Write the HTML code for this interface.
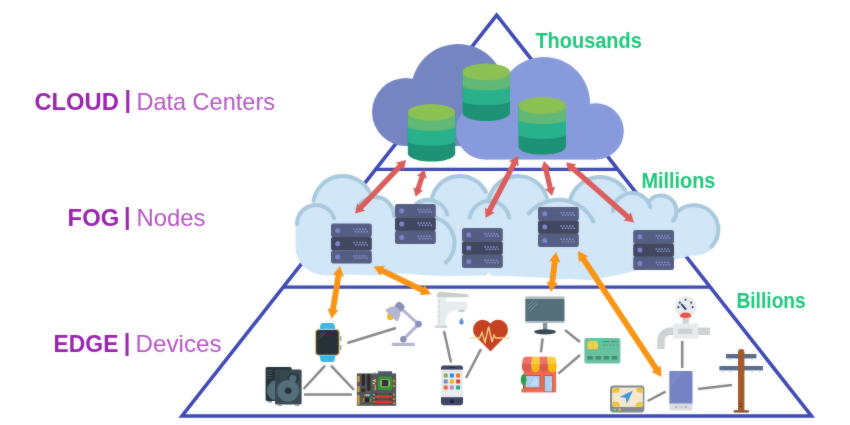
<!DOCTYPE html>
<html lang="en"><head><meta charset="utf-8"><title>Cloud Fog Edge</title>
<style>
html,body{margin:0;padding:0;background:#fff;}
body{width:850px;height:425px;overflow:hidden;}
svg{display:block;}
text{font-family:"Liberation Sans",sans-serif;}
.b{font-weight:700;}
</style></head><body>
<svg width="850" height="425" viewBox="0 0 850 425">
<rect width="850" height="425" fill="#ffffff"/>
<defs><filter id="soft" x="0" y="0" width="850" height="425" filterUnits="userSpaceOnUse" color-interpolation-filters="sRGB"><feGaussianBlur stdDeviation="0.8" result="b"/><feComposite in="b" in2="SourceGraphic" operator="arithmetic" k1="0" k2="0.3" k3="0.7" k4="0"/></filter></defs>
<g filter="url(#soft)">
<g fill="none" stroke="#3d49b3">
<path d="M496.7 15.2 L182 416 L811.4 416 Z" stroke-width="3.6" stroke-linejoin="miter"/>
<line x1="375.49" y1="169.3" x2="617.91" y2="169.3" stroke-width="3.2"/>
<line x1="282.95" y1="287.1" x2="710.45" y2="287.1" stroke-width="3.2"/>
</g>
<g fill="#d1e6f7">
<circle cx="316" cy="224" r="20.7"/>
<circle cx="343" cy="206" r="31.7"/>
<circle cx="375" cy="216" r="20.7"/>
<circle cx="428" cy="220" r="21.7"/>
<circle cx="460" cy="205" r="30.7"/>
<circle cx="518" cy="206" r="31.7"/>
<circle cx="558.5" cy="238.5" r="40.8"/>
<circle cx="600" cy="208" r="32.7"/>
<circle cx="632" cy="212" r="20.7"/>
<circle cx="661" cy="211" r="17.2"/>
<circle cx="694" cy="229.6" r="26.2"/>
<circle cx="489.5" cy="221" r="21"/>
<path d="M295.5 224 L295.5 246 C295.5 263 307 275.4 330 275.4 L350 274.6 L372 275.6 L400 273.6 L440 276 L486 275.5 L488.5 272.5 L491 275.5 L540 277.5 L590 280 Q612 276.5 630 272 Q655 266 674 260 Q692 256 702 251 Q714 244 718 236 L721 226 L694 215 L661 205 L632 205 L600 200 L561 215 L518 200 L460 200 L428 212 L400 208 L375 210 L343 200 L316 215 Z"/>
</g>
<path d="M297 224 A19 19 0 0 1 334.17 218.44" fill="none" stroke="#a9c9dd" stroke-width="4" stroke-linecap="round"/>
<path d="M313.55 200.28 A30 30 0 0 1 369.49 191.92" fill="none" stroke="#a9c9dd" stroke-width="4" stroke-linecap="round"/>
<path d="M357.38 208.88 A19 19 0 0 1 394 216" fill="none" stroke="#a9c9dd" stroke-width="4" stroke-linecap="round"/>
<path d="M416.53 203.62 A20 20 0 0 1 447.23 214.49" fill="none" stroke="#a9c9dd" stroke-width="4" stroke-linecap="round"/>
<path d="M436.19 217.8 A26.5 26.5 0 0 1 446.07 262.38" fill="none" stroke="#a9c9dd" stroke-width="4" stroke-linecap="round"/>
<path d="M431.44 199.96 A29 29 0 0 1 485.84 191.83" fill="none" stroke="#a9c9dd" stroke-width="4" stroke-linecap="round"/>
<path d="M488.55 200.28 A30 30 0 0 1 546.84 197.73" fill="none" stroke="#a9c9dd" stroke-width="4" stroke-linecap="round"/>
<path d="M469.8 217.53 A20 20 0 0 1 509.2 217.53" fill="none" stroke="#a9c9dd" stroke-width="4" stroke-linecap="round"/>
<path d="M528.78 213.56 A38.8 38.8 0 0 1 593.37 221.49" fill="none" stroke="#a9c9dd" stroke-width="4" stroke-linecap="round"/>
<path d="M570.52 198.42 A31 31 0 0 1 625.08 189.78" fill="none" stroke="#a9c9dd" stroke-width="4" stroke-linecap="round"/>
<path d="M613.03 211.01 A19 19 0 0 1 650.35 207.08" fill="none" stroke="#a9c9dd" stroke-width="4" stroke-linecap="round"/>
<path d="M650.04 200.04 A15.5 15.5 0 0 1 673.05 220.75" fill="none" stroke="#a9c9dd" stroke-width="4" stroke-linecap="round"/>
<path d="M678.32 210.91 A24.4 24.4 0 0 1 711.25 246.85" fill="none" stroke="#a9c9dd" stroke-width="4" stroke-linecap="round"/>
<g fill="#7585c2">
<circle cx="406" cy="112" r="34"/><circle cx="458" cy="91" r="47"/><rect x="406" y="100" width="140" height="46"/>
</g>
<g fill="#879bdc">
<circle cx="485" cy="130.5" r="29"/><circle cx="544" cy="103" r="46"/><circle cx="595.6" cy="131.4" r="28.2"/><rect x="485" y="125" width="111" height="34.6"/>
</g>
<path d="M407.8 112.4 L407.8 153.4 A23.7 8.2 0 0 0 455.2 153.4 L455.2 112.4 Z" fill="#1d9275"/>
<path d="M407.8 112.4 L407.8 141.2 A23.7 4.6 0 0 0 455.2 141.2 L455.2 112.4 Z" fill="#28b18a"/>
<path d="M407.8 112.4 L407.8 126.3 A23.7 4.6 0 0 0 455.2 126.3 L455.2 112.4 Z" fill="#62b876"/>
<ellipse cx="431.5" cy="112.4" rx="23.7" ry="8.4" fill="#8bc053"/>
<path d="M462.6 71.9 L462.6 112.9 A23.7 8.2 0 0 0 510 112.9 L510 71.9 Z" fill="#1d9275"/>
<path d="M462.6 71.9 L462.6 100.7 A23.7 4.6 0 0 0 510 100.7 L510 71.9 Z" fill="#28b18a"/>
<path d="M462.6 71.9 L462.6 85.8 A23.7 4.6 0 0 0 510 85.8 L510 71.9 Z" fill="#62b876"/>
<ellipse cx="486.3" cy="71.9" rx="23.7" ry="8.4" fill="#8bc053"/>
<path d="M518.6 105.5 L518.6 146.5 A23.7 8.2 0 0 0 566 146.5 L566 105.5 Z" fill="#1d9275"/>
<path d="M518.6 105.5 L518.6 134.3 A23.7 4.6 0 0 0 566 134.3 L566 105.5 Z" fill="#28b18a"/>
<path d="M518.6 105.5 L518.6 119.4 A23.7 4.6 0 0 0 566 119.4 L566 105.5 Z" fill="#62b876"/>
<ellipse cx="542.3" cy="105.5" rx="23.7" ry="8.4" fill="#8bc053"/>
<rect x="331" y="223.6" width="40.8" height="13.6" rx="2.2" fill="#555e82"/>
<rect x="331" y="236.9" width="40.8" height="13.6" rx="2.2" fill="#41475f"/>
<rect x="331" y="250.2" width="40.8" height="13.3" rx="2.2" fill="#555e82"/>
<circle cx="337.7" cy="230.4" r="2.5" fill="#7b85cc"/>
<rect x="353.3" y="228.5" width="1.7" height="1.6" fill="#828ac4"/>
<rect x="354.8" y="230.8" width="1.7" height="1.6" fill="#828ac4"/>
<rect x="356.2" y="228.5" width="1.7" height="1.6" fill="#828ac4"/>
<rect x="357.7" y="230.8" width="1.7" height="1.6" fill="#828ac4"/>
<rect x="359.1" y="228.5" width="1.7" height="1.6" fill="#828ac4"/>
<rect x="360.6" y="230.8" width="1.7" height="1.6" fill="#828ac4"/>
<rect x="362" y="228.5" width="1.7" height="1.6" fill="#828ac4"/>
<rect x="363.5" y="230.8" width="1.7" height="1.6" fill="#828ac4"/>
<rect x="364.9" y="228.5" width="1.7" height="1.6" fill="#828ac4"/>
<rect x="366.4" y="230.8" width="1.7" height="1.6" fill="#828ac4"/>
<circle cx="337.7" cy="243.7" r="2.5" fill="#7b85cc"/>
<rect x="353.3" y="241.8" width="1.7" height="1.6" fill="#828ac4"/>
<rect x="354.8" y="244.1" width="1.7" height="1.6" fill="#828ac4"/>
<rect x="356.2" y="241.8" width="1.7" height="1.6" fill="#828ac4"/>
<rect x="357.7" y="244.1" width="1.7" height="1.6" fill="#828ac4"/>
<rect x="359.1" y="241.8" width="1.7" height="1.6" fill="#828ac4"/>
<rect x="360.6" y="244.1" width="1.7" height="1.6" fill="#828ac4"/>
<rect x="362" y="241.8" width="1.7" height="1.6" fill="#828ac4"/>
<rect x="363.5" y="244.1" width="1.7" height="1.6" fill="#828ac4"/>
<rect x="364.9" y="241.8" width="1.7" height="1.6" fill="#828ac4"/>
<rect x="366.4" y="244.1" width="1.7" height="1.6" fill="#828ac4"/>
<circle cx="337.7" cy="257" r="2.5" fill="#7b85cc"/>
<rect x="353.3" y="255.1" width="1.7" height="1.6" fill="#828ac4"/>
<rect x="354.8" y="257.4" width="1.7" height="1.6" fill="#828ac4"/>
<rect x="356.2" y="255.1" width="1.7" height="1.6" fill="#828ac4"/>
<rect x="357.7" y="257.4" width="1.7" height="1.6" fill="#828ac4"/>
<rect x="359.1" y="255.1" width="1.7" height="1.6" fill="#828ac4"/>
<rect x="360.6" y="257.4" width="1.7" height="1.6" fill="#828ac4"/>
<rect x="362" y="255.1" width="1.7" height="1.6" fill="#828ac4"/>
<rect x="363.5" y="257.4" width="1.7" height="1.6" fill="#828ac4"/>
<rect x="364.9" y="255.1" width="1.7" height="1.6" fill="#828ac4"/>
<rect x="366.4" y="257.4" width="1.7" height="1.6" fill="#828ac4"/>
<rect x="395" y="204" width="40.8" height="13.6" rx="2.2" fill="#555e82"/>
<rect x="395" y="217.3" width="40.8" height="13.6" rx="2.2" fill="#41475f"/>
<rect x="395" y="230.6" width="40.8" height="13.3" rx="2.2" fill="#555e82"/>
<circle cx="401.7" cy="210.8" r="2.5" fill="#7b85cc"/>
<rect x="417.3" y="208.9" width="1.7" height="1.6" fill="#828ac4"/>
<rect x="418.8" y="211.2" width="1.7" height="1.6" fill="#828ac4"/>
<rect x="420.2" y="208.9" width="1.7" height="1.6" fill="#828ac4"/>
<rect x="421.7" y="211.2" width="1.7" height="1.6" fill="#828ac4"/>
<rect x="423.1" y="208.9" width="1.7" height="1.6" fill="#828ac4"/>
<rect x="424.6" y="211.2" width="1.7" height="1.6" fill="#828ac4"/>
<rect x="426" y="208.9" width="1.7" height="1.6" fill="#828ac4"/>
<rect x="427.5" y="211.2" width="1.7" height="1.6" fill="#828ac4"/>
<rect x="428.9" y="208.9" width="1.7" height="1.6" fill="#828ac4"/>
<rect x="430.4" y="211.2" width="1.7" height="1.6" fill="#828ac4"/>
<circle cx="401.7" cy="224.1" r="2.5" fill="#7b85cc"/>
<rect x="417.3" y="222.2" width="1.7" height="1.6" fill="#828ac4"/>
<rect x="418.8" y="224.5" width="1.7" height="1.6" fill="#828ac4"/>
<rect x="420.2" y="222.2" width="1.7" height="1.6" fill="#828ac4"/>
<rect x="421.7" y="224.5" width="1.7" height="1.6" fill="#828ac4"/>
<rect x="423.1" y="222.2" width="1.7" height="1.6" fill="#828ac4"/>
<rect x="424.6" y="224.5" width="1.7" height="1.6" fill="#828ac4"/>
<rect x="426" y="222.2" width="1.7" height="1.6" fill="#828ac4"/>
<rect x="427.5" y="224.5" width="1.7" height="1.6" fill="#828ac4"/>
<rect x="428.9" y="222.2" width="1.7" height="1.6" fill="#828ac4"/>
<rect x="430.4" y="224.5" width="1.7" height="1.6" fill="#828ac4"/>
<circle cx="401.7" cy="237.4" r="2.5" fill="#7b85cc"/>
<rect x="417.3" y="235.5" width="1.7" height="1.6" fill="#828ac4"/>
<rect x="418.8" y="237.8" width="1.7" height="1.6" fill="#828ac4"/>
<rect x="420.2" y="235.5" width="1.7" height="1.6" fill="#828ac4"/>
<rect x="421.7" y="237.8" width="1.7" height="1.6" fill="#828ac4"/>
<rect x="423.1" y="235.5" width="1.7" height="1.6" fill="#828ac4"/>
<rect x="424.6" y="237.8" width="1.7" height="1.6" fill="#828ac4"/>
<rect x="426" y="235.5" width="1.7" height="1.6" fill="#828ac4"/>
<rect x="427.5" y="237.8" width="1.7" height="1.6" fill="#828ac4"/>
<rect x="428.9" y="235.5" width="1.7" height="1.6" fill="#828ac4"/>
<rect x="430.4" y="237.8" width="1.7" height="1.6" fill="#828ac4"/>
<rect x="462" y="228" width="40.8" height="13.6" rx="2.2" fill="#555e82"/>
<rect x="462" y="241.3" width="40.8" height="13.6" rx="2.2" fill="#41475f"/>
<rect x="462" y="254.6" width="40.8" height="13.3" rx="2.2" fill="#555e82"/>
<circle cx="468.7" cy="234.8" r="2.5" fill="#7b85cc"/>
<rect x="484.3" y="232.9" width="1.7" height="1.6" fill="#828ac4"/>
<rect x="485.8" y="235.2" width="1.7" height="1.6" fill="#828ac4"/>
<rect x="487.2" y="232.9" width="1.7" height="1.6" fill="#828ac4"/>
<rect x="488.7" y="235.2" width="1.7" height="1.6" fill="#828ac4"/>
<rect x="490.1" y="232.9" width="1.7" height="1.6" fill="#828ac4"/>
<rect x="491.6" y="235.2" width="1.7" height="1.6" fill="#828ac4"/>
<rect x="493" y="232.9" width="1.7" height="1.6" fill="#828ac4"/>
<rect x="494.5" y="235.2" width="1.7" height="1.6" fill="#828ac4"/>
<rect x="495.9" y="232.9" width="1.7" height="1.6" fill="#828ac4"/>
<rect x="497.4" y="235.2" width="1.7" height="1.6" fill="#828ac4"/>
<circle cx="468.7" cy="248.1" r="2.5" fill="#7b85cc"/>
<rect x="484.3" y="246.2" width="1.7" height="1.6" fill="#828ac4"/>
<rect x="485.8" y="248.5" width="1.7" height="1.6" fill="#828ac4"/>
<rect x="487.2" y="246.2" width="1.7" height="1.6" fill="#828ac4"/>
<rect x="488.7" y="248.5" width="1.7" height="1.6" fill="#828ac4"/>
<rect x="490.1" y="246.2" width="1.7" height="1.6" fill="#828ac4"/>
<rect x="491.6" y="248.5" width="1.7" height="1.6" fill="#828ac4"/>
<rect x="493" y="246.2" width="1.7" height="1.6" fill="#828ac4"/>
<rect x="494.5" y="248.5" width="1.7" height="1.6" fill="#828ac4"/>
<rect x="495.9" y="246.2" width="1.7" height="1.6" fill="#828ac4"/>
<rect x="497.4" y="248.5" width="1.7" height="1.6" fill="#828ac4"/>
<circle cx="468.7" cy="261.4" r="2.5" fill="#7b85cc"/>
<rect x="484.3" y="259.5" width="1.7" height="1.6" fill="#828ac4"/>
<rect x="485.8" y="261.8" width="1.7" height="1.6" fill="#828ac4"/>
<rect x="487.2" y="259.5" width="1.7" height="1.6" fill="#828ac4"/>
<rect x="488.7" y="261.8" width="1.7" height="1.6" fill="#828ac4"/>
<rect x="490.1" y="259.5" width="1.7" height="1.6" fill="#828ac4"/>
<rect x="491.6" y="261.8" width="1.7" height="1.6" fill="#828ac4"/>
<rect x="493" y="259.5" width="1.7" height="1.6" fill="#828ac4"/>
<rect x="494.5" y="261.8" width="1.7" height="1.6" fill="#828ac4"/>
<rect x="495.9" y="259.5" width="1.7" height="1.6" fill="#828ac4"/>
<rect x="497.4" y="261.8" width="1.7" height="1.6" fill="#828ac4"/>
<rect x="538" y="207" width="40.8" height="13.6" rx="2.2" fill="#555e82"/>
<rect x="538" y="220.3" width="40.8" height="13.6" rx="2.2" fill="#41475f"/>
<rect x="538" y="233.6" width="40.8" height="13.3" rx="2.2" fill="#555e82"/>
<circle cx="544.7" cy="213.8" r="2.5" fill="#7b85cc"/>
<rect x="560.3" y="211.9" width="1.7" height="1.6" fill="#828ac4"/>
<rect x="561.8" y="214.2" width="1.7" height="1.6" fill="#828ac4"/>
<rect x="563.2" y="211.9" width="1.7" height="1.6" fill="#828ac4"/>
<rect x="564.7" y="214.2" width="1.7" height="1.6" fill="#828ac4"/>
<rect x="566.1" y="211.9" width="1.7" height="1.6" fill="#828ac4"/>
<rect x="567.6" y="214.2" width="1.7" height="1.6" fill="#828ac4"/>
<rect x="569" y="211.9" width="1.7" height="1.6" fill="#828ac4"/>
<rect x="570.5" y="214.2" width="1.7" height="1.6" fill="#828ac4"/>
<rect x="571.9" y="211.9" width="1.7" height="1.6" fill="#828ac4"/>
<rect x="573.4" y="214.2" width="1.7" height="1.6" fill="#828ac4"/>
<circle cx="544.7" cy="227.1" r="2.5" fill="#7b85cc"/>
<rect x="560.3" y="225.2" width="1.7" height="1.6" fill="#828ac4"/>
<rect x="561.8" y="227.5" width="1.7" height="1.6" fill="#828ac4"/>
<rect x="563.2" y="225.2" width="1.7" height="1.6" fill="#828ac4"/>
<rect x="564.7" y="227.5" width="1.7" height="1.6" fill="#828ac4"/>
<rect x="566.1" y="225.2" width="1.7" height="1.6" fill="#828ac4"/>
<rect x="567.6" y="227.5" width="1.7" height="1.6" fill="#828ac4"/>
<rect x="569" y="225.2" width="1.7" height="1.6" fill="#828ac4"/>
<rect x="570.5" y="227.5" width="1.7" height="1.6" fill="#828ac4"/>
<rect x="571.9" y="225.2" width="1.7" height="1.6" fill="#828ac4"/>
<rect x="573.4" y="227.5" width="1.7" height="1.6" fill="#828ac4"/>
<circle cx="544.7" cy="240.4" r="2.5" fill="#7b85cc"/>
<rect x="560.3" y="238.5" width="1.7" height="1.6" fill="#828ac4"/>
<rect x="561.8" y="240.8" width="1.7" height="1.6" fill="#828ac4"/>
<rect x="563.2" y="238.5" width="1.7" height="1.6" fill="#828ac4"/>
<rect x="564.7" y="240.8" width="1.7" height="1.6" fill="#828ac4"/>
<rect x="566.1" y="238.5" width="1.7" height="1.6" fill="#828ac4"/>
<rect x="567.6" y="240.8" width="1.7" height="1.6" fill="#828ac4"/>
<rect x="569" y="238.5" width="1.7" height="1.6" fill="#828ac4"/>
<rect x="570.5" y="240.8" width="1.7" height="1.6" fill="#828ac4"/>
<rect x="571.9" y="238.5" width="1.7" height="1.6" fill="#828ac4"/>
<rect x="573.4" y="240.8" width="1.7" height="1.6" fill="#828ac4"/>
<rect x="633.2" y="230" width="40.8" height="13.6" rx="2.2" fill="#555e82"/>
<rect x="633.2" y="243.3" width="40.8" height="13.6" rx="2.2" fill="#41475f"/>
<rect x="633.2" y="256.6" width="40.8" height="13.3" rx="2.2" fill="#555e82"/>
<circle cx="639.9" cy="236.8" r="2.5" fill="#7b85cc"/>
<rect x="655.5" y="234.9" width="1.7" height="1.6" fill="#828ac4"/>
<rect x="657" y="237.2" width="1.7" height="1.6" fill="#828ac4"/>
<rect x="658.4" y="234.9" width="1.7" height="1.6" fill="#828ac4"/>
<rect x="659.9" y="237.2" width="1.7" height="1.6" fill="#828ac4"/>
<rect x="661.3" y="234.9" width="1.7" height="1.6" fill="#828ac4"/>
<rect x="662.8" y="237.2" width="1.7" height="1.6" fill="#828ac4"/>
<rect x="664.2" y="234.9" width="1.7" height="1.6" fill="#828ac4"/>
<rect x="665.7" y="237.2" width="1.7" height="1.6" fill="#828ac4"/>
<rect x="667.1" y="234.9" width="1.7" height="1.6" fill="#828ac4"/>
<rect x="668.6" y="237.2" width="1.7" height="1.6" fill="#828ac4"/>
<circle cx="639.9" cy="250.1" r="2.5" fill="#7b85cc"/>
<rect x="655.5" y="248.2" width="1.7" height="1.6" fill="#828ac4"/>
<rect x="657" y="250.5" width="1.7" height="1.6" fill="#828ac4"/>
<rect x="658.4" y="248.2" width="1.7" height="1.6" fill="#828ac4"/>
<rect x="659.9" y="250.5" width="1.7" height="1.6" fill="#828ac4"/>
<rect x="661.3" y="248.2" width="1.7" height="1.6" fill="#828ac4"/>
<rect x="662.8" y="250.5" width="1.7" height="1.6" fill="#828ac4"/>
<rect x="664.2" y="248.2" width="1.7" height="1.6" fill="#828ac4"/>
<rect x="665.7" y="250.5" width="1.7" height="1.6" fill="#828ac4"/>
<rect x="667.1" y="248.2" width="1.7" height="1.6" fill="#828ac4"/>
<rect x="668.6" y="250.5" width="1.7" height="1.6" fill="#828ac4"/>
<circle cx="639.9" cy="263.4" r="2.5" fill="#7b85cc"/>
<rect x="655.5" y="261.5" width="1.7" height="1.6" fill="#828ac4"/>
<rect x="657" y="263.8" width="1.7" height="1.6" fill="#828ac4"/>
<rect x="658.4" y="261.5" width="1.7" height="1.6" fill="#828ac4"/>
<rect x="659.9" y="263.8" width="1.7" height="1.6" fill="#828ac4"/>
<rect x="661.3" y="261.5" width="1.7" height="1.6" fill="#828ac4"/>
<rect x="662.8" y="263.8" width="1.7" height="1.6" fill="#828ac4"/>
<rect x="664.2" y="261.5" width="1.7" height="1.6" fill="#828ac4"/>
<rect x="665.7" y="263.8" width="1.7" height="1.6" fill="#828ac4"/>
<rect x="667.1" y="261.5" width="1.7" height="1.6" fill="#828ac4"/>
<rect x="668.6" y="263.8" width="1.7" height="1.6" fill="#828ac4"/>
<polygon fill="#da5d5c" points="406,160 395.74,162.8 398.18,164.3 358.9,205.58 357.29,203.22 355,213.6 365.26,210.8 362.82,209.3 402.1,168.02 403.71,170.38"/>
<polygon fill="#da5d5c" points="424.4,169.3 416.78,175.89 419.49,176.13 415.56,188.39 413.22,187.01 415.6,196.8 423.22,190.21 420.51,189.97 424.44,177.71 426.78,179.09"/>
<polygon fill="#da5d5c" points="518,156 508.91,161.52 511.67,162.28 487.14,209.22 484.94,207.39 485.6,218 494.69,212.48 491.93,211.72 516.46,164.78 518.66,166.61"/>
<polygon fill="#da5d5c" points="544,161 540.8,170.55 543.25,169.38 547.68,188.78 544.97,188.79 552,196 555.2,186.45 552.75,187.62 548.32,168.22 551.03,168.21"/>
<polygon fill="#da5d5c" points="566,162.4 569.18,172.54 570.59,170.05 625.84,218.8 623.54,220.5 634,222.4 630.82,212.26 629.41,214.75 574.16,166 576.46,164.3"/>
<line x1="347.4" y1="343" x2="396" y2="328" stroke="#878787" stroke-width="2.5" stroke-linecap="butt"/>
<line x1="325" y1="365.6" x2="303.6" y2="389" stroke="#878787" stroke-width="2.5" stroke-linecap="butt"/>
<line x1="331" y1="365.6" x2="354" y2="390" stroke="#878787" stroke-width="2.5" stroke-linecap="butt"/>
<line x1="304" y1="394.6" x2="352" y2="394.6" stroke="#878787" stroke-width="2.5" stroke-linecap="butt"/>
<line x1="444" y1="331" x2="451" y2="362.4" stroke="#878787" stroke-width="2.5" stroke-linecap="butt"/>
<line x1="481" y1="349" x2="466" y2="378" stroke="#878787" stroke-width="2.5" stroke-linecap="butt"/>
<line x1="542.6" y1="338.4" x2="541" y2="352.4" stroke="#878787" stroke-width="2.5" stroke-linecap="butt"/>
<line x1="565" y1="330" x2="580" y2="342" stroke="#878787" stroke-width="2.5" stroke-linecap="butt"/>
<line x1="580" y1="355" x2="558.4" y2="373.6" stroke="#878787" stroke-width="2.5" stroke-linecap="butt"/>
<line x1="682.2" y1="341" x2="682.2" y2="368" stroke="#878787" stroke-width="2.5" stroke-linecap="butt"/>
<line x1="647.6" y1="401" x2="665.6" y2="391.6" stroke="#878787" stroke-width="2.5" stroke-linecap="butt"/>
<line x1="698" y1="389" x2="732" y2="385" stroke="#878787" stroke-width="2.5" stroke-linecap="butt"/>
<polygon fill="#fa9414" points="340,266 332.77,275.07 335.58,274.91 330.1,308.95 327.48,307.92 331.5,318.8 338.73,309.73 335.92,309.89 341.4,275.85 344.02,276.88"/>
<polygon fill="#fa9414" points="373.6,266.5 380.22,276.02 380.87,273.29 421.16,292.73 419.43,294.94 431,294.2 424.38,284.68 423.73,287.41 383.44,267.97 385.17,265.76"/>
<polygon fill="#fa9414" points="556,252 549.09,261.32 551.89,261.06 549.25,282.21 546.6,281.27 551,292 557.91,282.68 555.11,282.94 557.75,261.79 560.4,262.73"/>
<polygon fill="#fa9414" points="578,251 578.83,262.57 580.79,260.55 653.89,370.71 651.27,371.74 661.6,377 660.77,365.43 658.81,367.45 585.71,257.29 588.33,256.26"/>
<g>
<path d="M319.4 330 L320.6 324.6 Q321 323 322.8 323 L332.2 323 Q334 323 334.4 324.6 L335.6 330 Z" fill="#3db7dc"/>
<path d="M319.4 355 L320.6 360.4 Q321 362 322.8 362 L332.2 362 Q334 362 334.4 360.4 L335.6 355 Z" fill="#3db7dc"/>
<rect x="339" y="336" width="2.7" height="5" rx="0.9" fill="#b3bac0"/><rect x="339" y="345" width="2.7" height="5" rx="0.9" fill="#b3bac0"/>
<rect x="315.6" y="329.4" width="23.6" height="25.8" rx="3.3" fill="#263238" stroke="#e9c27d" stroke-width="1.1"/>
<path d="M319 336 L323.5 331.5 M319 339 L326 332" stroke="#5b6a73" stroke-width="0.7" fill="none"/>
</g>
<g>
<rect x="265.6" y="367" width="26" height="34" rx="1.5" fill="#263238"/>
<rect x="268" y="401" width="4" height="1.4" fill="#78909c"/>
<path d="M275 380.2 A10.5 10.5 0 0 0 275 400.6 Z" fill="#546e7a"/>
<g stroke="#455a64" stroke-width="0.9"><line x1="267" y1="370.5" x2="272" y2="370.5"/><line x1="267" y1="373" x2="272" y2="373"/><line x1="267" y1="375.5" x2="272" y2="375.5"/><line x1="267" y1="378" x2="272" y2="378"/></g>
<rect x="275" y="369.6" width="26.6" height="34.8" rx="1.5" fill="#37474f"/>
<rect x="278" y="404.4" width="4" height="1.4" fill="#78909c"/><rect x="295" y="404.4" width="4" height="1.4" fill="#78909c"/>
<g stroke="#2b3a42" stroke-width="0.9"><line x1="276.2" y1="372.6" x2="279.6" y2="372.6"/><line x1="276.2" y1="375" x2="279.6" y2="375"/><line x1="276.2" y1="377.4" x2="279.6" y2="377.4"/><line x1="276.2" y1="379.8" x2="279.6" y2="379.8"/></g>
<circle cx="292.9" cy="378.6" r="5.8" fill="#2b3a42"/>
<circle cx="288.2" cy="390.8" r="10.9" fill="#546e7a"/>
<circle cx="292.9" cy="378.6" r="3.6" fill="#546e7a"/>
<circle cx="288.2" cy="390.8" r="3.3" fill="#263238"/>
</g>
<g>
<rect x="378" y="371.3" width="14" height="2.6" fill="#35516f"/><rect x="380" y="371.3" width="3" height="1" fill="#6f8aa6"/><rect x="386" y="371.3" width="3" height="1" fill="#6f8aa6"/>
<rect x="373.6" y="372.2" width="3" height="1.4" fill="#c9ced2"/>
<rect x="356.9" y="373.4" width="39.2" height="32.4" fill="#555558"/>
<path d="M361.7 374 L364.9 374 L364.9 385 L363.3 386.6 L361.7 385 Z" fill="#29292b"/><path d="M367.2 374 L370.4 374 L370.4 389.6 L368.8 391.2 L367.2 389.6 Z" fill="#29292b"/>
<rect x="378" y="376.4" width="14.2" height="13.6" rx="1.6" fill="#2f9632"/>
<rect x="381.2" y="379.2" width="7.8" height="8" fill="#b9c383"/><rect x="380.4" y="380.4" width="9.4" height="5.6" fill="#b9c383"/>
<rect x="381.8" y="379.8" width="6.6" height="6.6" fill="#303032"/>
<rect x="373" y="393" width="20.6" height="11.6" fill="#4a4d55"/>
<rect x="375.2" y="393" width="1.7" height="11.6" fill="#2c3a4c"/><rect x="389.6" y="393" width="1.7" height="11.6" fill="#2c3a4c"/>
<rect x="374.6" y="395.2" width="17.4" height="2.9" fill="#e0342b"/><rect x="374.6" y="400.6" width="17.4" height="2.9" fill="#e0342b"/>
<rect x="373.4" y="394" width="1.3" height="1.3" fill="#cfd3d6"/><rect x="373.4" y="397.6" width="1.3" height="1.3" fill="#cfd3d6"/><rect x="373.4" y="401.2" width="1.3" height="1.3" fill="#e1b12c"/>
<rect x="357.5" y="376" width="2.1" height="6" fill="#d9a520"/>
<rect x="357.5" y="386" width="2.1" height="6" fill="#d9a520"/>
<rect x="357.5" y="395" width="2.1" height="9.6" fill="#d9a520"/>
<rect x="361.4" y="388.6" width="3.6" height="3.6" fill="#2a2a2c"/>
<rect x="364.8" y="397.8" width="4.6" height="4.6" fill="#252527"/><rect x="363" y="398.4" width="1.4" height="1.2" fill="#e1b12c"/><rect x="363" y="400.6" width="1.4" height="1.2" fill="#e1b12c"/><rect x="369.8" y="398.4" width="1.4" height="1.2" fill="#e1b12c"/><rect x="369.8" y="400.6" width="1.4" height="1.2" fill="#e1b12c"/>
<rect x="364.2" y="394.4" width="1.6" height="1.4" fill="#e1b12c"/><rect x="366" y="394.4" width="3.6" height="1.4" fill="#d5d8da"/>
<rect x="372.6" y="380" width="2.4" height="1.3" fill="#d5d8da"/><rect x="372.6" y="382.8" width="2.4" height="1.3" fill="#d5d8da"/><rect x="374.4" y="379" width="1.5" height="3" fill="#e1b12c"/><rect x="374.4" y="384.6" width="1.5" height="5.6" fill="#caa028"/>
<rect x="393" y="380" width="1.6" height="2" fill="#d9a520"/>
<rect x="393" y="385" width="1.6" height="2" fill="#d9a520"/>
<rect x="393" y="393.6" width="1.6" height="2" fill="#d9a520"/>
<rect x="393" y="398" width="1.6" height="2" fill="#d9a520"/>
<rect x="393" y="402" width="1.6" height="2" fill="#d9a520"/>
</g>
<g>
<rect x="391.7" y="342.8" width="23.3" height="3.1" rx="1.2" fill="#b3b5d3"/>
<line x1="403.3" y1="339.3" x2="418.5" y2="324.1" stroke="#b3b5d3" stroke-width="3.2"/>
<line x1="418.5" y1="324.1" x2="401" y2="308.4" stroke="#b3b5d3" stroke-width="3.2"/>
<circle cx="403.3" cy="339.3" r="3.2" fill="#8b90b7"/><circle cx="418.5" cy="324.1" r="3.4" fill="#8b90b7"/>
<rect x="-4.6" y="-4.2" width="9.2" height="8.4" rx="3.4" transform="translate(399.6 306.8) rotate(42)" fill="#8b90b7"/>
<circle cx="390.4" cy="316.5" r="3.5" fill="#eebd1c"/>
<path d="M-8.2 0 A8.2 10.6 0 0 1 8.2 0 Z" transform="translate(391 316) rotate(45)" fill="#b3b5d3"/>
</g>
<g>
<path d="M437.2 300 L445.6 300 L445.6 301.5 L466 301.5 Q467 301.5 467 302.5 L467 309.7 L457.6 309.7 Q445.8 310.6 445.6 322 L445.6 325.8 L437.2 325.8 Z" fill="#e7ecef"/>
<path d="M436.8 297.4 L436.8 295.6 Q436.8 291.8 441 291.8 L467.6 294.3 Q469 294.5 469 295.7 Q469 296.9 467.6 297 L440 297.4 Z" fill="#c9cdcc"/>
<rect x="437.2" y="297" width="8.4" height="4" fill="#e7ecef"/>
<rect x="458.4" y="309.7" width="6.2" height="2.2" fill="#c3c8c7"/>
<rect x="434.8" y="325.6" width="12.4" height="2.5" rx="0.6" fill="#cfd4d3"/>
<line x1="439.3" y1="299.6" x2="439.3" y2="324" stroke="#cdd3d5" stroke-width="1" stroke-dasharray="3.4 1.6"/>
<path d="M461.5 317.8 Q464.4 321.8 463.6 323.2 A2.35 2.35 0 0 1 459.4 323.2 Q458.6 321.8 461.5 317.8 Z" fill="#5596d8"/>
</g>
<g>
<path d="M490.5 351.4 L475.3 336 A9.4 9.4 0 0 1 490.5 323.4 A9.4 9.4 0 0 1 505.7 336 Z" fill="#c5411f"/>
<polyline points="470,338 479.6,338 482,332.4 485,342.4 488.6,326.6 492,342 494,335 495.8,338 509,338" fill="none" stroke="#f6d98f" stroke-width="1.3" stroke-linejoin="miter"/>
</g>
<g>
<rect x="441" y="365.6" width="22" height="39.6" rx="2.4" fill="#3d4463"/>
<rect x="441" y="369.6" width="22" height="27.6" fill="#e8ecef"/>
<rect x="449" y="367" width="6" height="1" fill="#23283c"/>
<circle cx="452" cy="401.2" r="2" fill="#1f2335"/>
<rect x="443.7" y="373.6" width="4" height="4" rx="0.5" fill="#7cb342"/>
<rect x="449.9" y="373.6" width="4" height="4" rx="0.5" fill="#1e88e5"/>
<rect x="456.1" y="373.6" width="4" height="4" rx="0.5" fill="#e8711a"/>
<rect x="443.7" y="379.6" width="4" height="4" rx="0.5" fill="#7986cb"/>
<rect x="449.9" y="379.6" width="4" height="4" rx="0.5" fill="#f4b400"/>
<rect x="456.1" y="379.6" width="4" height="4" rx="0.5" fill="#e53935"/>
<rect x="443.7" y="385.6" width="4" height="4" rx="0.5" fill="#f4603a"/>
<rect x="449.9" y="385.6" width="4" height="4" rx="0.5" fill="#b48ad4"/>
<rect x="456.1" y="385.6" width="4" height="4" rx="0.5" fill="#1fa67a"/>
</g>
<g>
<rect x="543" y="322" width="4.2" height="9" fill="#78909c"/>
<ellipse cx="545" cy="331.8" rx="11" ry="2.6" fill="#37474f"/>
<rect x="525.4" y="296.4" width="39" height="26.6" fill="#b0bec5"/>
<rect x="525.4" y="299" width="39" height="22" fill="#546e7a"/>
<path d="M527.4 306.4 L533.6 300.6 M527.8 309.6 L536.8 300.8 M529.6 311.4 L537.6 303.4" stroke="#8fa3ad" stroke-width="0.7" fill="none"/>
</g>
<g>
<rect x="523.6" y="366" width="32.5" height="26.4" fill="#f06b51"/>
<path d="M521.9 363.2 L521.9 368 A4.8 4.2 0 0 0 531.5 368 L531.5 363.2 Z" fill="#dc5a52"/>
<path d="M521.9 363.4 L523.2 358.6 Q523.7 356.8 525.7 356.8 L532.2 356.8 L531.5 363.4 Z" fill="#ee7061"/>
<path d="M531.5 363.2 L531.5 368 A4.05 4.2 0 0 0 539.6 368 L539.6 363.2 Z" fill="#f3ba12"/>
<path d="M531.5 363.4 L532.2 356.8 L539.6 356.8 L539.6 363.4 Z" fill="#f8cc3c"/>
<path d="M539.6 363.2 L539.6 368 A4.15 4.2 0 0 0 547.9 368 L547.9 363.2 Z" fill="#dc5a52"/>
<path d="M539.6 363.4 L539.6 356.8 L547.4 356.8 L547.9 363.4 Z" fill="#ee7061"/>
<path d="M547.9 363.2 L547.9 368 A4.35 4.2 0 0 0 556.6 368 L556.6 363.2 Z" fill="#f3ba12"/>
<path d="M547.9 363.4 L547.4 356.8 L553 356.8 Q555 356.8 555.5 358.6 L556.6 363.4 Z" fill="#f8cc3c"/>
<rect x="524.5" y="375" width="16" height="13.4" fill="#cb4f46"/><rect x="525.5" y="376" width="14" height="11.4" fill="#a9d1f0"/>
<path d="M531.6 385.6 L535.4 378 M533.8 386.2 L537.4 379 M536.4 385.4 L538.4 381.4" stroke="#dcedf9" stroke-width="0.9" fill="none"/>
<rect x="543.7" y="375" width="9.5" height="17" fill="#cb4f46"/><rect x="544.7" y="376" width="7.5" height="15.4" fill="#a9d1f0"/>
<rect x="550.2" y="382.6" width="1" height="3" fill="#f4f9fd"/>
<rect x="523.1" y="383" width="1" height="6.4" fill="#6b4a2c"/>
<ellipse cx="523.6" cy="379.6" rx="2.9" ry="5.6" fill="#2e9b4f"/>
<rect x="521.3" y="388.8" width="4.3" height="3.6" fill="#cb7c4c"/>
</g>
<g>
<rect x="584.4" y="338" width="36" height="25.6" rx="2.4" fill="#69c0a0"/>
<rect x="587.4" y="341" width="10.6" height="8.2" rx="1.4" fill="#f0c93a"/>
<path d="M587.4 345 L590.6 345 M594.8 345 L598 345 M590.6 341 L590.6 349.2 M594.8 341 L594.8 349.2" stroke="#f7e08a" stroke-width="0.6" fill="none"/>
<rect x="603" y="341" width="6.4" height="1.1" fill="#3f8f75"/><rect x="611" y="341" width="6.6" height="1.1" fill="#3f8f75"/>
<rect x="603.4" y="344.6" width="1.6" height="1" fill="#3f8f75"/>
<rect x="606.6" y="344.6" width="1.6" height="1" fill="#3f8f75"/>
<rect x="609.8" y="344.6" width="1.6" height="1" fill="#3f8f75"/>
<rect x="613" y="344.6" width="1.6" height="1" fill="#3f8f75"/>
<rect x="616.2" y="344.6" width="1.6" height="1" fill="#3f8f75"/>
<rect x="587.4" y="356" width="5.6" height="3.6" fill="#3f8f75"/>
<rect x="595.5" y="356" width="5.6" height="3.6" fill="#3f8f75"/>
<rect x="603.6" y="356" width="5.6" height="3.6" fill="#3f8f75"/>
<rect x="611.7" y="356" width="5.6" height="3.6" fill="#3f8f75"/>
</g>
<g>
<rect x="682.4" y="317" width="6.6" height="7" fill="#cfd4d4"/>
<circle cx="685.6" cy="307" r="11" fill="#e9edef"/>
<path d="M679.9 316.8 Q679.9 312.4 685.6 312.4 Q691.3 312.4 691.3 316.8 Q685.6 319.4 679.9 316.8 Z" fill="#e5574a"/>
<circle cx="678.4" cy="307.15" r="1.05" fill="#2c3e6b"/>
<circle cx="679.83" cy="302.63" r="1.05" fill="#2c3e6b"/>
<circle cx="685.5" cy="299.8" r="1.05" fill="#2c3e6b"/>
<circle cx="691.17" cy="302.63" r="1.05" fill="#2c3e6b"/>
<circle cx="692.6" cy="307.15" r="1.05" fill="#2c3e6b"/>
<line x1="681.8" y1="304.6" x2="685.6" y2="309" stroke="#2c3e6b" stroke-width="2" stroke-linecap="round"/>
<path d="M674 331.2 L670.5 331.2 A9.5 9.5 0 0 0 661 340.7 L661 349" fill="none" stroke="#cdd2d2" stroke-width="7.4"/>
<rect x="697" y="327.6" width="13" height="7.4" fill="#cdd2d2"/>
<rect x="673" y="323.4" width="25" height="15" rx="1" fill="#e7ebeb"/>
<rect x="678.4" y="328.6" width="14" height="5.4" fill="#cdd2d2"/>
</g>
<g>
<rect x="610" y="385.6" width="34.4" height="26.8" rx="3.4" fill="#7f8c8d"/>
<rect x="612.6" y="388" width="29.8" height="18.4" rx="1.4" fill="#f6e7cd" stroke="#fbf4e6" stroke-width="0.8"/>
<path d="M612.6 389.4 Q612.6 388 614 388 L619.6 388 L619 392.4 L612.6 393 Z M642.4 389.4 Q642.4 388 641 388 L636.4 388 L637 392 L642.4 393 Z M612.6 401.6 L618.4 402 L620 406.4 L614 406.4 Q612.6 406.4 612.6 405 Z M642.4 402 L637 402.4 L635.4 406.4 L641 406.4 Q642.4 406.4 642.4 405 Z" fill="#f0c330"/>
<path d="M633 390.6 L626.6 404 L625.8 397.8 L619.6 397 Z" fill="#3a95de"/>
<circle cx="615" cy="409.5" r="1.2" fill="#8bd34a"/><circle cx="619.8" cy="409.5" r="1.2" fill="#f4d03f"/>
</g>
<g>
<rect x="669.4" y="371" width="23" height="39.4" rx="0.8" fill="#d9dee2"/>
<path d="M669.4 371.8 Q669.4 371 670.2 371 L691.6 371 Q692.4 371 692.4 371.8 L692.4 403.6 L669.4 403.6 Z" fill="#7583c4"/>
<path d="M670.6 378 L676 372.2 M670.8 381.4 L679.4 372.2 M671.4 384 L681 373.6" stroke="#929edb" stroke-width="0.7" fill="none"/>
<path d="M676.6 406 L676.6 408 L675.2 407 Z M685.4 406 L685.4 408 L686.8 407 Z" fill="#55606e"/><rect x="678.6" y="406.2" width="4.6" height="1.6" fill="#c2c8cd"/>
</g>
<g>
<rect x="726" y="354" width="30.4" height="4.4" fill="#5a6a8c"/><rect x="719.4" y="366" width="43.6" height="4.4" fill="#5a6a8c"/>
<rect x="729.6" y="358.4" width="1.6" height="2.4" fill="#cfe3ee"/>
<rect x="751.6" y="358.4" width="1.6" height="2.4" fill="#cfe3ee"/>
<rect x="722" y="370.4" width="1.6" height="2.6" fill="#cfe3ee"/>
<rect x="729.6" y="370.4" width="1.6" height="2.6" fill="#cfe3ee"/>
<rect x="751.6" y="370.4" width="1.6" height="2.6" fill="#cfe3ee"/>
<rect x="759" y="370.4" width="1.6" height="2.6" fill="#cfe3ee"/>
<path d="M738 352.2 Q738 349 741.2 349 Q744.4 349 744.4 352.2 L744.4 410.6 L738 410.6 Z" fill="#a3592a"/>
<rect x="733.6" y="410.2" width="15.4" height="2.3" rx="0.8" fill="#8a4620"/>
<rect x="739.4" y="403" width="2.6" height="1.2" fill="#6d3717"/><rect x="739.4" y="406" width="2.6" height="1.2" fill="#6d3717"/>
</g>
<text x="34.4" y="109.7" font-size="23.4" fill="#9622ab" class="b" textLength="84.4" lengthAdjust="spacingAndGlyphs">CLOUD</text>
<text x="124.4" y="108.3" font-size="23.4" fill="#9622ab" class="b">|</text>
<text x="136.4" y="109.7" font-size="23.4" fill="#b355c3" textLength="138.6" lengthAdjust="spacingAndGlyphs">Data Centers</text>
<text x="67.6" y="226" font-size="23.4" fill="#9622ab" class="b" textLength="51.6" lengthAdjust="spacingAndGlyphs">FOG</text>
<text x="124" y="224.6" font-size="23.4" fill="#9622ab" class="b">|</text>
<text x="136.4" y="226" font-size="23.4" fill="#b355c3" textLength="69" lengthAdjust="spacingAndGlyphs">Nodes</text>
<text x="53.6" y="352" font-size="23.4" fill="#9622ab" class="b" textLength="64.8" lengthAdjust="spacingAndGlyphs">EDGE</text>
<text x="123.8" y="350.6" font-size="23.4" fill="#9622ab" class="b">|</text>
<text x="135.6" y="352" font-size="23.4" fill="#b355c3" textLength="86" lengthAdjust="spacingAndGlyphs">Devices</text>
<text x="535.4" y="47.6" font-size="21.4" fill="#1dc67c" class="b" textLength="106.4" lengthAdjust="spacingAndGlyphs">Thousands</text>
<text x="641.4" y="187.8" font-size="21.4" fill="#1dc67c" class="b" textLength="74" lengthAdjust="spacingAndGlyphs">Millions</text>
<text x="736.4" y="307.9" font-size="21.4" fill="#1dc67c" class="b" textLength="69.4" lengthAdjust="spacingAndGlyphs">Billions</text>
</g>
</svg></body></html>
